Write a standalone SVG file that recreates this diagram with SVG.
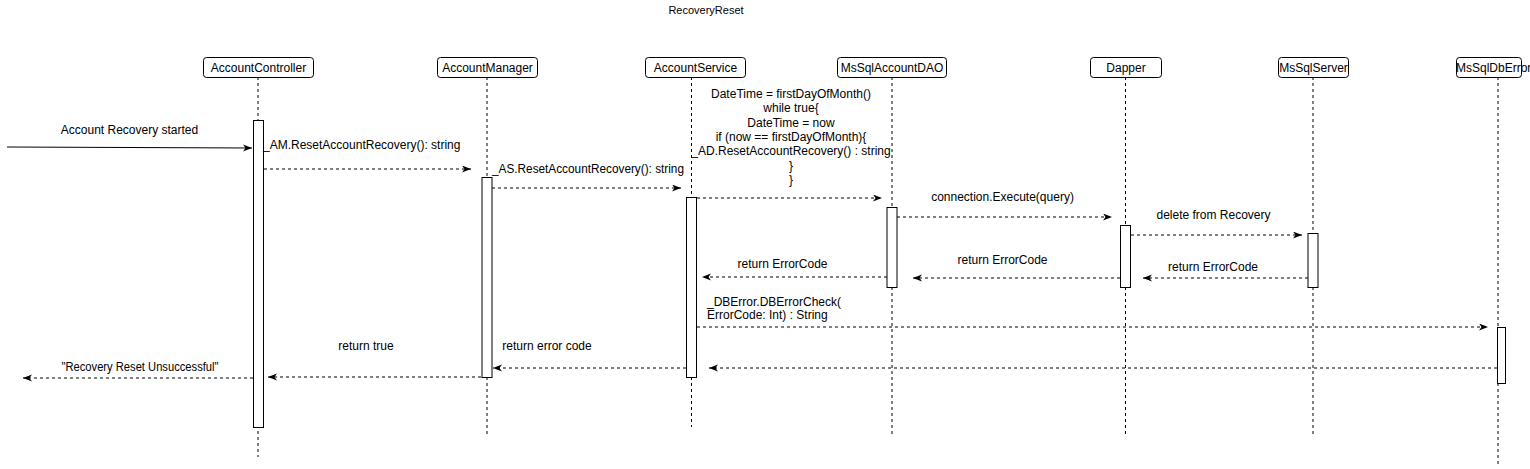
<svg xmlns="http://www.w3.org/2000/svg" width="1530" height="469" viewBox="0 0 1530 469">
<style>
text{font-family:"Liberation Sans",Arial,sans-serif;font-size:12px;fill:#000}
.title{font-size:11px}
.hdr{fill:#fff;stroke:#000;stroke-width:1}
.life{stroke:#000;stroke-width:1;stroke-dasharray:3 3;fill:none}
.act{fill:#fff;stroke:#000;stroke-width:1}
.msg{stroke:#000;stroke-width:1;fill:none;marker-end:url(#arr)}
.dash{stroke-dasharray:3 3}
.c{text-anchor:middle}
</style>
<defs>
<marker id="arr" markerUnits="userSpaceOnUse" markerWidth="10" markerHeight="8" refX="9" refY="3.5" orient="auto">
<path d="M0,0 L9,3.5 L0,7 L2.5,3.5 z" fill="#000"/>
</marker>
</defs>
<rect width="1530" height="469" fill="#fff"/>
<text class="title c" x="706" y="14">RecoveryReset</text>

<g id="AccountController">
<line class="life" x1="258" y1="77" x2="258" y2="457"/>
<rect class="hdr" x="203.5" y="57.5" width="110" height="20" rx="3"/>
<text class="c" x="258.5" y="72">AccountController</text>
<rect class="act" x="253.5" y="120.5" width="10" height="307"/>
</g>
<g id="AccountManager">
<line class="life" x1="487" y1="77" x2="487" y2="434"/>
<rect class="hdr" x="437.5" y="57.5" width="100" height="20" rx="3"/>
<text class="c" x="487.5" y="72">AccountManager</text>
<rect class="act" x="482" y="177.5" width="10" height="200"/>
</g>
<g id="AccountService">
<line class="life" x1="691.5" y1="77" x2="691.5" y2="427"/>
<rect class="hdr" x="645.5" y="57.5" width="100" height="20" rx="3"/>
<text class="c" x="695.5" y="72">AccountService</text>
<rect class="act" x="686.5" y="197.5" width="10" height="180"/>
</g>
<g id="MsSqlAccountDAO">
<line class="life" x1="892" y1="77" x2="892" y2="435"/>
<rect class="hdr" x="837.5" y="57.5" width="109" height="20" rx="3"/>
<text class="c" x="892" y="72">MsSqlAccountDAO</text>
<rect class="act" x="887" y="207.5" width="10" height="80"/>
</g>
<g id="Dapper">
<line class="life" x1="1125.5" y1="77" x2="1125.5" y2="435"/>
<rect class="hdr" x="1090.5" y="57.5" width="71" height="20" rx="3"/>
<text class="c" x="1126" y="72">Dapper</text>
<rect class="act" x="1120.5" y="225.5" width="10" height="62"/>
</g>
<g id="MsSqlServer">
<line class="life" x1="1313" y1="77" x2="1313" y2="435"/>
<rect class="hdr" x="1278.5" y="57.5" width="70" height="20" rx="3"/>
<text class="c" x="1313.5" y="72">MsSqlServer</text>
<rect class="act" x="1308" y="233.5" width="10" height="54"/>
</g>
<g id="MsSqlDbError">
<line class="life" x1="1498" y1="77" x2="1498" y2="465"/>
<rect class="hdr" x="1456.5" y="57.5" width="65" height="20" rx="3"/>
<text x="1456" y="72">MsSqlDbError</text>
<rect class="act" x="1497.5" y="327.5" width="8" height="56"/>
</g>

<g id="connectors">
<line class="msg" x1="7" y1="147" x2="252" y2="148"/>
<line class="msg dash" x1="264" y1="169" x2="471" y2="169"/>
<line class="msg dash" x1="492" y1="188" x2="681" y2="188"/>
<line class="msg dash" x1="697" y1="198" x2="882" y2="198"/>
<line class="msg dash" x1="897" y1="217" x2="1112" y2="217"/>
<line class="msg dash" x1="1131" y1="235" x2="1302" y2="235"/>
<line class="msg dash" x1="1308" y1="278" x2="1143" y2="278"/>
<line class="msg dash" x1="1120" y1="278" x2="913" y2="278"/>
<line class="msg dash" x1="887" y1="277" x2="702" y2="277"/>
<line class="msg dash" x1="697" y1="327" x2="1488" y2="327"/>
<line class="msg dash" x1="1497" y1="368" x2="709" y2="368"/>
<line class="msg dash" x1="686" y1="368" x2="493" y2="368"/>
<line class="msg dash" x1="481" y1="377" x2="268" y2="377"/>
<line class="msg dash" x1="253" y1="378" x2="23" y2="378"/>
</g>

<g id="labels">
<text class="c" x="129.5" y="134">Account Recovery started</text>
<text x="263" y="149">_AM.ResetAccountRecovery(): string</text>
<text x="492" y="173" textLength="192" lengthAdjust="spacingAndGlyphs">_AS.ResetAccountRecovery(): string</text>
<text class="c" x="791" y="98">DateTime = firstDayOfMonth()</text>
<text class="c" x="791" y="112.3">while true{</text>
<text class="c" x="791" y="126.6">DateTime = now</text>
<text class="c" x="791" y="140.9">if (now == firstDayOfMonth){</text>
<text class="c" x="791" y="155.2">_AD.ResetAccountRecovery() : string</text>
<text class="c" x="791" y="169.5">}</text>
<text class="c" x="791" y="183.8">}</text>
<text class="c" x="1002.5" y="201">connection.Execute(query)</text>
<text class="c" x="1213.5" y="219">delete from Recovery</text>
<text class="c" x="1213" y="271">return ErrorCode</text>
<text class="c" x="1002.5" y="264">return ErrorCode</text>
<text class="c" x="782.5" y="268">return ErrorCode</text>
<text x="707" y="306">_DBError.DBErrorCheck(</text>
<text x="707" y="319">ErrorCode: Int) : String</text>
<text class="c" x="366" y="350">return true</text>
<text class="c" x="547" y="350">return error code</text>
<text class="c" x="140" y="371" textLength="157" lengthAdjust="spacingAndGlyphs">"Recovery Reset Unsuccessful"</text>
</g>
</svg>
